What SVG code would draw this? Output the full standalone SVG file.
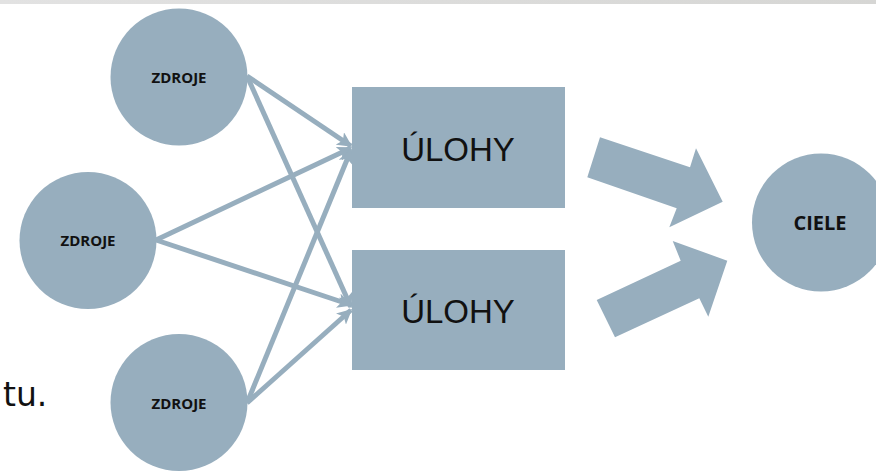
<svg xmlns="http://www.w3.org/2000/svg" width="876" height="471" viewBox="0 0 876 471">
  <defs>
    <linearGradient id="band" x1="0" y1="0" x2="1" y2="0">
      <stop offset="0" stop-color="#e2e2e2"/>
      <stop offset="1" stop-color="#d6d6d4"/>
    </linearGradient>
    <marker id="head" viewBox="0 0 10 10" refX="9" refY="5" markerUnits="userSpaceOnUse" markerWidth="15" markerHeight="15" orient="auto">
      <path d="M0,0 L10,5 L0,10 L2.5,5 Z" fill="#97aebe"/>
    </marker>
    <style>
      .shape { fill: #97aebe; }
      .link { stroke: #97aebe; stroke-width: 5; fill: none; marker-end: url(#head); }
      .small { font-family: "Open Sans", "Liberation Sans", sans-serif; font-weight: bold; font-size: 15px; fill: #111; text-anchor: middle; }
      .big { font-family: "Liberation Sans", Arial, sans-serif; font-size: 33px; fill: #111; text-anchor: middle; }
      .goal { font-family: "Open Sans", "Liberation Sans", sans-serif; font-weight: bold; font-size: 20px; fill: #111; text-anchor: middle; }
    </style>
  </defs>

  <rect x="0" y="0" width="876" height="4" fill="url(#band)"/>

  <text x="3" y="406" font-family="DejaVu Sans, sans-serif" font-size="33" fill="#111">tu.</text>

  <g id="connectors">
    <line class="link" x1="247" y1="76" x2="351" y2="146"/>
    <line class="link" x1="247" y1="76" x2="351" y2="307"/>
    <line class="link" x1="156" y1="240" x2="351" y2="148"/>
    <line class="link" x1="156" y1="240" x2="351" y2="305"/>
    <line class="link" x1="247" y1="403" x2="351" y2="150"/>
    <line class="link" x1="247" y1="403" x2="351" y2="310"/>
    <polygon class="shape" points="600,137.3 690,167.3 696,148.3 722.7,201.7 669.3,227.3 676.7,208.3 587.3,177.3"/>
    <polygon class="shape" points="596.7,300 680.7,260.7 672.7,241 727.3,260.7 708.3,316.7 699.3,298.3 615,337.3"/>
  </g>

  <g id="zdroje1">
    <circle class="shape" cx="179" cy="77" r="68.5"/>
    <text class="small" x="179" y="82.5">ZDROJE</text>
  </g>
  <g id="zdroje2">
    <circle class="shape" cx="88" cy="240.5" r="68.5"/>
    <text class="small" x="88" y="246">ZDROJE</text>
  </g>
  <g id="zdroje3">
    <circle class="shape" cx="179" cy="402.5" r="68.5"/>
    <text class="small" x="179" y="409">ZDROJE</text>
  </g>

  <g id="ulohy1">
    <rect class="shape" x="352" y="87" width="213" height="121"/>
    <text class="big" x="458" y="161">ÚLOHY</text>
  </g>
  <g id="ulohy2">
    <rect class="shape" x="352" y="250" width="213" height="120"/>
    <text class="big" x="458" y="323">ÚLOHY</text>
  </g>

  <g id="ciele">
    <circle class="shape" cx="821" cy="222.5" r="69"/>
    <text class="goal" x="820" y="230">CIELE</text>
  </g>
</svg>
